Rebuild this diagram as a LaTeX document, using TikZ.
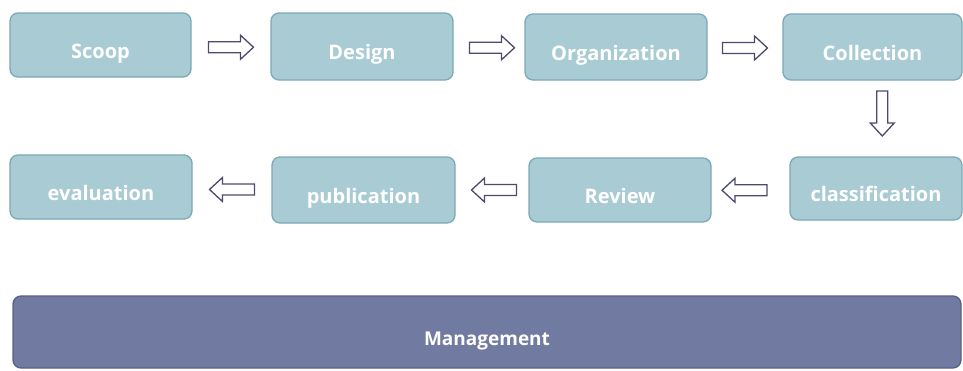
\documentclass[tikz,border=0pt]{standalone}
\usepackage{fontspec}
\setmainfont{Open Sans}
\usetikzlibrary{calc}
\definecolor{boxfill}{RGB}{169,203,211}
\definecolor{boxline}{RGB}{122,170,182}
\definecolor{mgmtfill}{RGB}{113,122,160}
\definecolor{mgmtline}{RGB}{88,96,134}
\definecolor{arrowline}{RGB}{75,75,112}
\begin{document}
\begin{tikzpicture}[x=1pt,y=-1pt,
  stage/.style={draw=boxline, fill=boxfill, line width=1.3pt, rounded corners=8pt,
    text=white, font=\fontsize{20}{22}\selectfont\bfseries, inner sep=0pt,
    text height=26pt, text depth=0pt},
  mgmt/.style={stage, draw=mgmtline, fill=mgmtfill, font=\fontsize{19}{22}\selectfont\bfseries},
  blockarrow/.pic={\draw[arrowline, fill=white, line width=1.3pt, line join=miter]
    (-22.5,-5.5) -- (9.5,-5.5) -- (9.5,-12) -- (22.5,0) -- (9.5,12) -- (9.5,5.5) -- (-22.5,5.5) -- cycle;}
]
\useasboundingbox (0,0) rectangle (963,370);
% top row
\node[stage, minimum width=181pt, minimum height=64pt] (scoop) at (100.5,45) {Scoop};
\node[stage, minimum width=182pt, minimum height=67pt] (design) at (362,46.5) {Design};
\node[stage, minimum width=182pt, minimum height=66pt] (organization) at (616,47) {Organization};
\node[stage, minimum width=179pt, minimum height=66pt] (collection) at (872.5,47) {Collection};
% second row
\node[stage, minimum width=182pt, minimum height=64pt] (evaluation) at (101,187) {evaluation};
\node[stage, minimum width=183pt, minimum height=66pt] (publication) at (363.5,190) {publication};
\node[stage, minimum width=182pt, minimum height=64pt] (review) at (620,190) {Review};
\node[stage, minimum width=172pt, minimum height=63pt] (classification) at (876,188.5) {classification};
% management
\node[mgmt, minimum width=948pt, minimum height=72pt] (management) at (487,332) {Management};
% arrows
\pic at ($(scoop.east)!.5!(design.west)+(0,1.5)$) {blockarrow};
\pic at ($(design.east)!.5!(organization.west)+(3,1)$) {blockarrow};
\pic at ($(organization.east)!.5!(collection.west)+(0,1)$) {blockarrow};
\pic[rotate=-90] at ($(collection.south)!.5!(classification.north)+(8,-5)$) {blockarrow};
\pic[rotate=180] at ($(classification.west)!.5!(review.east)+(-6,1)$) {blockarrow};
\pic[rotate=180] at ($(review.west)!.5!(publication.east)+(2,0)$) {blockarrow};
\pic[rotate=180] at ($(publication.west)!.5!(evaluation.east)+(0,1)$) {blockarrow};
\end{tikzpicture}
\end{document}
